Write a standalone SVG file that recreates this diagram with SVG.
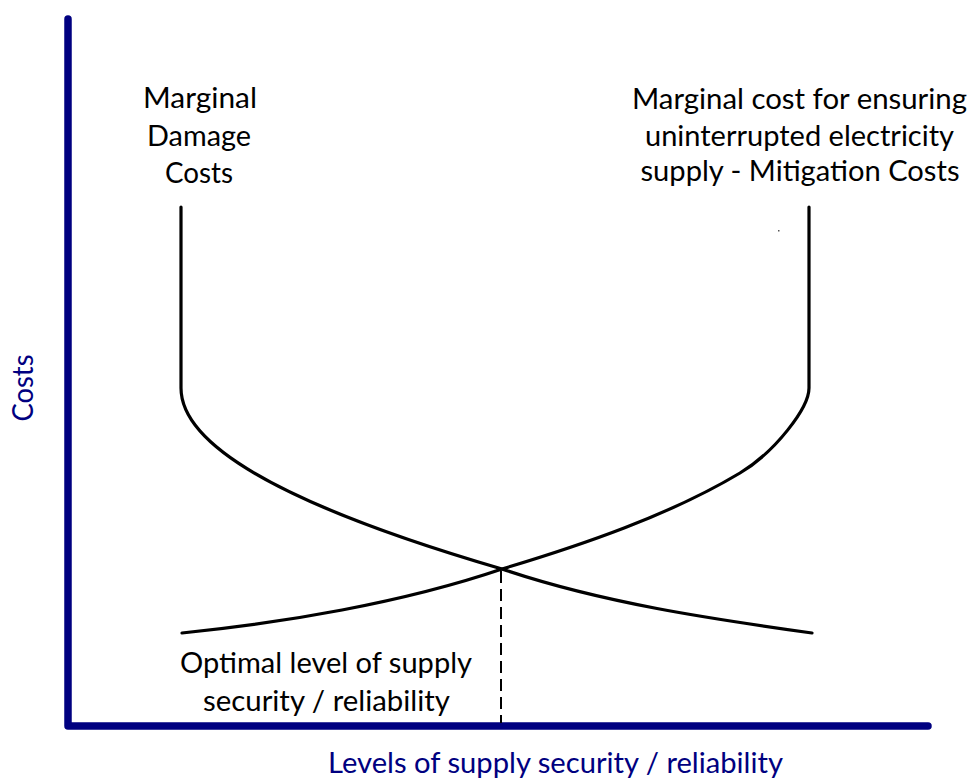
<svg xmlns="http://www.w3.org/2000/svg" width="971" height="778" viewBox="0 0 971 778">
  <style>
    .axis { fill: none; stroke: #000080; stroke-width: 7.5; stroke-linecap: round; stroke-linejoin: round; }
    .curve { fill: none; stroke: #000000; stroke-width: 3.2; stroke-linecap: round; stroke-linejoin: round; }
    .guide { fill: none; stroke: #000000; stroke-width: 2; stroke-dasharray: 12 6; }
    .lbl { font-family: Lato, "Open Sans", "Liberation Sans", sans-serif; font-size: 28px; fill: #000000; text-anchor: middle; }
    .axlbl { font-family: Lato, "Open Sans", "Liberation Sans", sans-serif; font-size: 28px; fill: #000080; text-anchor: middle; }
  </style>
  <rect x="0" y="0" width="971" height="778" fill="#ffffff"/>

  <g id="axes">
    <path class="axis" d="M68,19 V726 H928"/>
  </g>

  <g id="axis-label-y">
    <text class="axlbl" x="33" y="388" transform="rotate(-90 33 388)" textLength="67" lengthAdjust="spacingAndGlyphs">Costs</text>
  </g>
  <g id="axis-label-x">
    <text class="axlbl" x="555.5" y="773" textLength="455" lengthAdjust="spacingAndGlyphs">Levels of supply security / reliability</text>
  </g>

  <g id="curve-damage">
    <path class="curve" d="M181,207 L181,388 C181,450 300,510 502,569 C602,603 712,619 812,633"/>
  </g>
  <g id="curve-mitigation">
    <path class="curve" d="M809,207 L809,388 C809,408 775,452 740,473 C670,515 582,545 502,569 C402,603 282,623 182,633"/>
  </g>

  <g id="connectors">
    <line class="guide" x1="501" y1="571" x2="501" y2="723"/>
  </g>

  <g id="label-damage">
    <text class="lbl" x="200" y="108" textLength="114" lengthAdjust="spacingAndGlyphs">Marginal</text>
    <text class="lbl" x="199" y="146" textLength="104" lengthAdjust="spacingAndGlyphs">Damage</text>
    <text class="lbl" x="199" y="183" textLength="68" lengthAdjust="spacingAndGlyphs">Costs</text>
  </g>
  <g id="label-mitigation">
    <text class="lbl" x="799.5" y="109" textLength="335" lengthAdjust="spacingAndGlyphs">Marginal cost for ensuring</text>
    <text class="lbl" x="799.5" y="146" textLength="309" lengthAdjust="spacingAndGlyphs">uninterrupted electricity</text>
    <text class="lbl" x="800" y="181" textLength="319" lengthAdjust="spacingAndGlyphs">supply - Mitigation Costs</text>
  </g>
  <g id="label-optimal">
    <text class="lbl" x="326" y="673" textLength="292" lengthAdjust="spacingAndGlyphs">Optimal level of supply</text>
    <text class="lbl" x="326.5" y="711" textLength="247" lengthAdjust="spacingAndGlyphs">security / reliability</text>
  </g>

  <rect x="778" y="230" width="1.5" height="1.5" fill="#555555"/>
</svg>
